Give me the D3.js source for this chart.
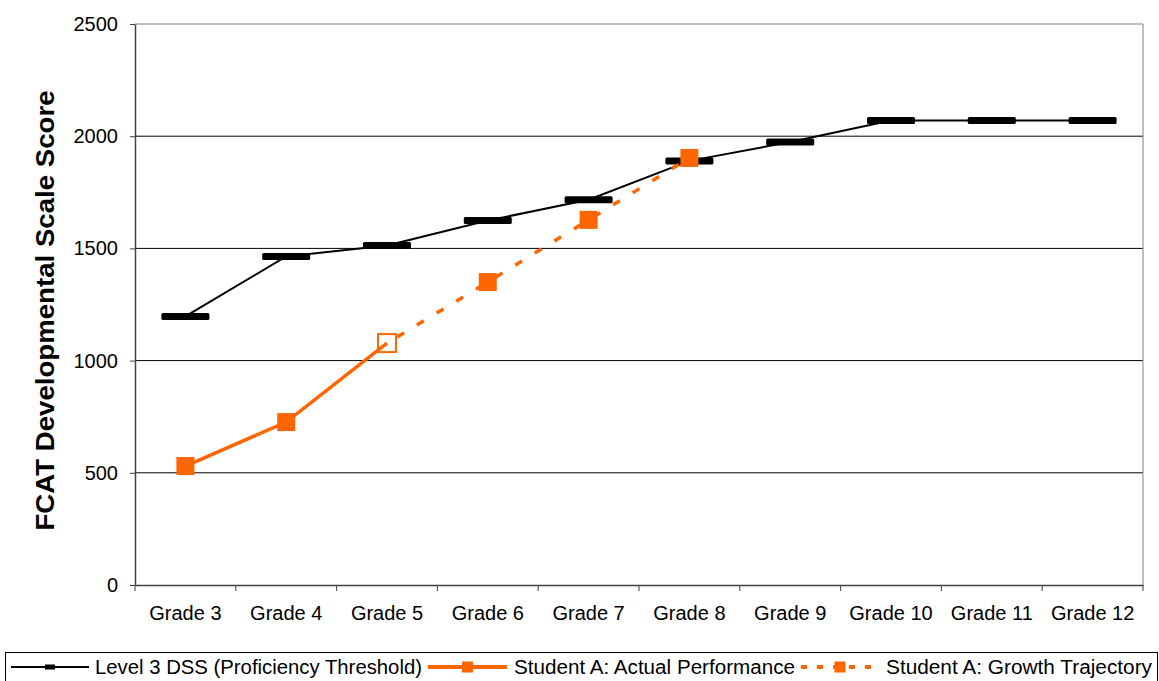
<!DOCTYPE html>
<html>
<head>
<meta charset="utf-8">
<script src="https://cdn.jsdelivr.net/npm/d3@7"></script>
<style>
  html, body { margin: 0; padding: 0; background: #fff; }
  svg { display: block; font-family: "Liberation Sans", Arial, sans-serif; }
</style>
</head>
<body>
<svg id="chart" width="1159" height="681"></svg>
<script>
// Grades along the horizontal axis
const grades = ["Grade 3", "Grade 4", "Grade 5", "Grade 6", "Grade 7", "Grade 8", "Grade 9", "Grade 10", "Grade 11", "Grade 12"];
// Level 3 developmental scale score thresholds per grade
const thresholdValues = [1197, 1464, 1513, 1624, 1717, 1890, 1974, 2070, 2070, 2070];
// Student A actual scores (Grades 3-5)
const actualGrades = ["Grade 3", "Grade 4", "Grade 5"];
const actualValues = [530, 726, 1078];
// Student A projected growth (Grades 5-8)
const trajectoryGrades = ["Grade 5", "Grade 6", "Grade 7", "Grade 8"];
const trajectoryValues = [1078, 1350, 1627, 1903];
// Point shown as an open square where the two student series meet
const openMarkerGrades = ["Grade 5"];
// Y axis ticks
const yTicks = [0, 500, 1000, 1500, 2000, 2500];
const legendLabels = ["Level 3 DSS (Proficiency Threshold)", "Student A: Actual Performance", "Student A: Growth Trajectory"];

const ORANGE = "#FF6600";
const FONT = "'Liberation Sans', Arial, sans-serif";
const svg = d3.select("#chart");
const plot = { left: 135, right: 1143, top: 24, bottom: 585 };

const x = d3.scaleBand().domain(grades).range([plot.left, plot.right]).padding(0);
const cx = g => x(g) + x.bandwidth() / 2;
const y = d3.scaleLinear().domain([0, 2500]).range([plot.bottom, plot.top]);

// Horizontal gridlines
svg.append("g").selectAll("line")
  .data(yTicks.filter(v => v > 0 && v < 2500))
  .join("line")
  .attr("x1", plot.left).attr("x2", plot.right)
  .attr("y1", d => y(d)).attr("y2", d => y(d))
  .attr("stroke", "#000").attr("stroke-width", 1);

// Plot frame (top and right)
svg.append("path")
  .attr("d", `M${plot.left},${plot.top}H${plot.right}V${plot.bottom}`)
  .attr("fill", "none").attr("stroke", "#808080").attr("stroke-width", 1);

// Y axis
const yAxis = svg.append("g")
  .attr("transform", `translate(${plot.left},0)`)
  .call(d3.axisLeft(y).tickValues(yTicks).tickFormat(d3.format("d"))
    .tickSizeInner(5).tickSizeOuter(0).tickPadding(12));
yAxis.attr("font-family", FONT);
yAxis.select(".domain").attr("stroke", "#404040").attr("stroke-width", 1.5);
yAxis.selectAll(".tick line").attr("stroke", "#404040");
yAxis.selectAll("text").attr("font-size", 20).attr("fill", "#000");

// X axis: labels centred in each band, ticks on band edges
const xAxis = svg.append("g")
  .attr("transform", `translate(0,${plot.bottom})`)
  .call(d3.axisBottom(x).tickSize(0).tickPadding(21));
xAxis.attr("font-family", FONT);
xAxis.select(".domain").attr("stroke", "#404040").attr("stroke-width", 1.5);
xAxis.selectAll("text").attr("font-size", 20).attr("fill", "#000");
xAxis.append("g").selectAll("line")
  .data(grades.map(g => x(g)).concat([plot.right]))
  .join("line")
  .attr("x1", d => d).attr("x2", d => d)
  .attr("y1", 0).attr("y2", 6)
  .attr("stroke", "#404040").attr("stroke-width", 1);

// Axis title
svg.append("text")
  .attr("transform", `translate(54,${(plot.top + plot.bottom) / 2 + 6}) rotate(-90)`)
  .attr("text-anchor", "middle")
  .attr("font-size", 25).attr("font-weight", "bold")
  .attr("textLength", 440).attr("lengthAdjust", "spacingAndGlyphs")
  .text("FCAT Developmental Scale Score");

// Threshold line and dash markers
const thresholdData = grades.map((g, i) => ({ g, v: thresholdValues[i] }));
svg.append("path")
  .datum(thresholdData)
  .attr("fill", "none").attr("stroke", "#000").attr("stroke-width", 2)
  .attr("d", d3.line().x(d => cx(d.g)).y(d => y(d.v)));
svg.append("g").selectAll("rect")
  .data(thresholdData)
  .join("rect")
  .attr("x", d => cx(d.g) - 24).attr("y", d => y(d.v) - 3.5)
  .attr("width", 48).attr("height", 7).attr("rx", 1.5)
  .attr("fill", "#000");

// Student A actual performance
const actualData = actualGrades.map((g, i) => ({ g, v: actualValues[i] }));
svg.append("path")
  .datum(actualData)
  .attr("fill", "none").attr("stroke", ORANGE).attr("stroke-width", 3.5)
  .attr("d", d3.line().x(d => cx(d.g)).y(d => y(d.v)));

// Student A growth trajectory
const trajectoryData = trajectoryGrades.map((g, i) => ({ g, v: trajectoryValues[i] }));
svg.append("path")
  .datum(trajectoryData)
  .attr("fill", "none").attr("stroke", ORANGE).attr("stroke-width", 3.5)
  .attr("stroke-dasharray", "8,15")
  .attr("stroke-dashoffset", -12)
  .attr("d", d3.line().x(d => cx(d.g)).y(d => y(d.v)));

// Square markers for both student series
const markerData = actualData.concat(trajectoryData.slice(1));
const S = 18;
svg.append("g").selectAll("rect")
  .data(markerData)
  .join("rect")
  .attr("x", d => cx(d.g) - S / 2).attr("y", d => y(d.v) - S / 2)
  .attr("width", S).attr("height", S)
  .attr("fill", d => openMarkerGrades.includes(d.g) ? "none" : ORANGE)
  .attr("stroke", ORANGE)
  .attr("stroke-width", d => openMarkerGrades.includes(d.g) ? 2 : 0);

// Legend
const legend = svg.append("g");
legend.append("rect")
  .attr("x", 5.5).attr("y", 652.5).attr("width", 1152).attr("height", 40)
  .attr("fill", "#fff").attr("stroke", "#000").attr("stroke-width", 1);
const ly = 667;
const items = [
  { x1: 11, x2: 89, text: 95, len: 327, color: "#000", width: 2, dash: null, marker: "dash" },
  { x1: 428, x2: 507, text: 514, len: 281, color: ORANGE, width: 4, dash: null, marker: "square" },
  { x1: 801, x2: 879, text: 886, len: 266, color: ORANGE, width: 4, dash: "6,10", marker: "square" }
];
items.forEach((it, i) => {
  legend.append("line")
    .attr("x1", it.x1).attr("x2", it.x2).attr("y1", ly).attr("y2", ly)
    .attr("stroke", it.color).attr("stroke-width", it.width)
    .attr("stroke-dasharray", it.dash);
  const mid = (it.x1 + it.x2) / 2;
  if (it.marker === "dash") {
    legend.append("rect").attr("x", mid - 5).attr("y", ly - 2.5).attr("width", 10).attr("height", 5).attr("fill", "#000");
  } else {
    legend.append("rect").attr("x", mid - 5.5).attr("y", ly - 5.5).attr("width", 11).attr("height", 11).attr("fill", ORANGE);
  }
  legend.append("text")
    .attr("x", it.text).attr("y", ly + 7)
    .attr("font-size", 20)
    .attr("textLength", it.len).attr("lengthAdjust", "spacingAndGlyphs")
    .text(legendLabels[i]);
});
</script>
</body>
</html>
